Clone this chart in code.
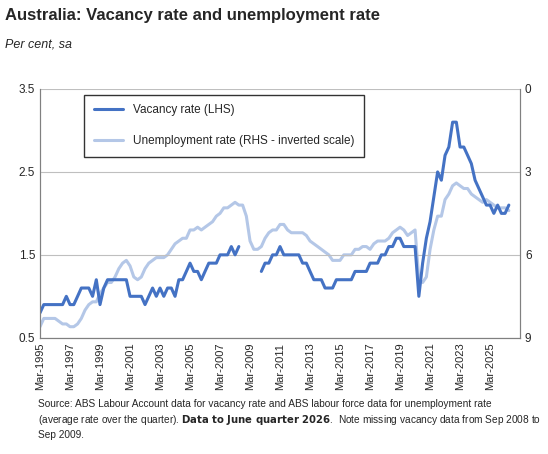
import numpy as np, pandas as pd, matplotlib
matplotlib.use("Agg")
import matplotlib.pyplot as plt, seaborn as sns

vacancy = [0.8,0.9,0.9,0.9, 0.9,0.9,0.9,1.0, 0.9,0.9,1.0,1.1, 1.1,1.1,1.0,1.2,
 0.9,1.1,1.2,1.2, 1.2,1.2,1.2,1.2, 1.0,1.0,1.0,1.0, 0.9,1.0,1.1,1.0,
 1.1,1.0,1.1,1.1, 1.0,1.2,1.2,1.3, 1.4,1.3,1.3,1.2, 1.3,1.4,1.4,1.4,
 1.5,1.5,1.5,1.6, 1.5,1.6,np.nan,np.nan, np.nan,np.nan,np.nan,1.3,
 1.4,1.4,1.5,1.5, 1.6,1.5,1.5,1.5, 1.5,1.5,1.4,1.4, 1.3,1.2,1.2,1.2,
 1.1,1.1,1.1,1.2, 1.2,1.2,1.2,1.2, 1.3,1.3,1.3,1.3, 1.4,1.4,1.4,1.5,
 1.5,1.6,1.6,1.7, 1.7,1.6,1.6,1.6, 1.6,1.0,1.4,1.7, 1.9,2.2,2.5,2.4,
 2.7,2.8,3.1,3.1, 2.8,2.8,2.7,2.6, 2.4,2.3,2.2,2.1, 2.1,2.0,2.1,2.0, 2.0,2.1]
unemp = [8.6,8.3,8.3,8.3, 8.3,8.4,8.5,8.5, 8.6,8.6,8.5,8.3, 8.0,7.8,7.7,7.7,
 7.4,7.2,7.0,7.0, 6.8,6.5,6.3,6.2, 6.4,6.8,6.9,6.8, 6.5,6.3,6.2,6.1,
 6.1,6.1,6.0,5.8, 5.6,5.5,5.4,5.4, 5.1,5.1,5.0,5.1, 5.0,4.9,4.8,4.6,
 4.5,4.3,4.3,4.2, 4.1,4.2,4.2,4.6, 5.5,5.8,5.8,5.7, 5.4,5.2,5.1,5.1,
 4.9,4.9,5.1,5.2, 5.2,5.2,5.2,5.3, 5.5,5.6,5.7,5.8, 5.9,6.0,6.2,6.2,
 6.2,6.0,6.0,6.0, 5.8,5.8,5.7,5.7, 5.8,5.6,5.5,5.5, 5.5,5.4,5.2,5.1,
 5.0,5.1,5.3,5.2, 5.1,6.9,7.0,6.8, 5.8,5.1,4.6,4.6, 4.0,3.8,3.5,3.4,
 3.5,3.6,3.6,3.8, 3.9,4.0,4.1,4.0, 4.1,4.2,4.3,4.3, 4.3,4.4]
dates = pd.date_range("1995-03-01", periods=len(vacancy), freq="QS-MAR")
df = pd.DataFrame({"date": dates, "vac": vacancy, "un": unemp})
gap = pd.Timestamp("2009-01-01")
seg1 = df[df.date < gap]; seg2 = df[df.date >= gap]

sns.set_style("white")
plt.rcParams['font.family'] = ['Calibri', 'Liberation Sans', 'DejaVu Sans']
fig = plt.figure(figsize=(5.48, 4.54), dpi=100)
ax = fig.add_axes([0.073, 0.256, 0.876, 0.548])
ax2 = ax.twinx()
sns.lineplot(data=df, x="date", y="un", ax=ax2, color="#b4c7e7", lw=2.2, label="Unemployment rate (RHS - inverted scale)", legend=False)
sns.lineplot(data=seg1, x="date", y="vac", ax=ax, color="#4472c4", lw=2.2, label="Vacancy rate (LHS)", legend=False)
sns.lineplot(data=seg2, x="date", y="vac", ax=ax, color="#4472c4", lw=2.2, legend=False)
ax.set_zorder(ax2.get_zorder()+1); ax.patch.set_visible(False)
ax.set_ylim(0.5, 3.5); ax.set_yticks([0.5,1.5,2.5,3.5])
ax.set_yticklabels(["0.5","1.5","2.5","3.5"])
ax2.set_ylim(9, 0); ax2.set_yticks([0,3,6,9])
ax.grid(axis="y", color="#bfbfbf", lw=0.8)
ticks = pd.date_range("1995-03-01", "2025-03-01", freq="24MS")
ax.set_xticks(ticks); ax.set_xticklabels([d.strftime("Mar-%Y") for d in ticks], rotation=90)
ax.set_xlim(dates[0], pd.Timestamp("2027-03-01"))
ax.set_xlabel(""); ax.set_ylabel(""); ax2.set_ylabel("")
for a in (ax, ax2):
    a.tick_params(labelsize=8.5, length=0)
    for s in a.spines.values(): s.set_color("#808080")
ax.tick_params(axis="x", labelsize=8)
ax.spines["top"].set_visible(False); ax2.spines["top"].set_visible(False)
h1, l1 = ax.get_legend_handles_labels(); h2, l2 = ax2.get_legend_handles_labels()
ax.legend(h1+h2, l1+l2, loc="upper left", bbox_to_anchor=(0.08, 1.0), fontsize=8.5,
          frameon=True, fancybox=False, edgecolor="black", labelspacing=1.6, handlelength=2.5, borderpad=0.8)
fig.text(0.01, 0.955, "Australia: Vacancy rate and unemployment rate", fontsize=12, fontweight="bold")
fig.text(0.01, 0.895, "Per cent, sa", fontsize=9, style="italic")
fig.text(0.07, 0.035, "Source: ABS Labour Account data for vacancy rate and ABS labour force data for unemployment rate\n(average rate over the quarter). $\\bf{Data\\ to\\ June\\ quarter\\ 2026}$.  Note missing vacancy data from Sep 2008 to\nSep 2009.", fontsize=7.3, linespacing=1.4)
fig.savefig("out.png", dpi=100)
